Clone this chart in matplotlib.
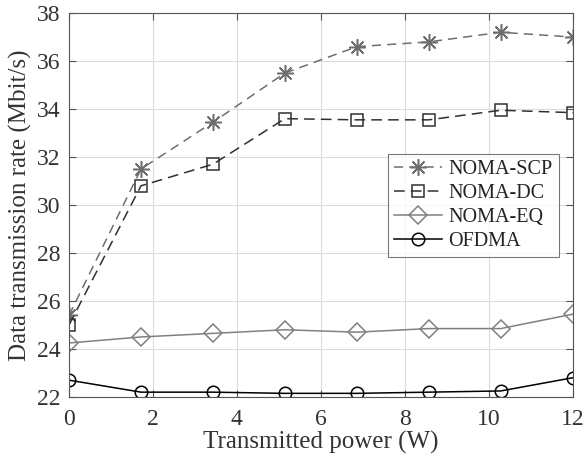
import matplotlib
matplotlib.use("Agg")
import matplotlib.pyplot as plt

# transmitted power (W)
power = [0, 12/7, 24/7, 36/7, 48/7, 60/7, 72/7, 12]

# data rate (Mbit/s)
noma_scp = [25.4, 31.5, 33.45, 35.5, 36.6, 36.8, 37.2, 37.0]
noma_dc = [25.0, 30.8, 31.7, 33.6, 33.55, 33.55, 33.95, 33.85]
noma_eq = [24.25, 24.5, 24.65, 24.8, 24.7, 24.85, 24.85, 25.45]
ofdma = [22.7, 22.2, 22.2, 22.15, 22.15, 22.2, 22.25, 22.8]

plt.rcParams['font.family'] = ['Liberation Serif', 'DejaVu Serif']

fig = plt.figure(figsize=(5.85, 4.67), dpi=100)
ax = fig.add_axes([0.118, 0.15, 0.861, 0.822])

ax.plot(power, noma_scp, color='#6e6e6e', linestyle=(0, (6, 4)), linewidth=1.1,
        marker=(8, 2, 0), markersize=12, markeredgewidth=1.1, label='NOMA-SCP')
ax.plot(power, noma_dc, color='#303030', linestyle=(0, (7, 4)), linewidth=1.1,
        marker='s', markersize=8, markerfacecolor='none', markeredgewidth=1.1, label='NOMA-DC')
ax.plot(power, noma_eq, color='#808080', linestyle='-', linewidth=1.1,
        marker='D', markersize=9, markerfacecolor='none', markeredgewidth=1.1, label='NOMA-EQ')
ax.plot(power, ofdma, color='#000000', linestyle='-', linewidth=1.1,
        marker='o', markersize=9, markerfacecolor='none', markeredgewidth=1.1, label='OFDMA')

ax.set_xlim(0, 12)
ax.set_ylim(22, 38)
ax.set_xticks(range(0, 13, 2))
ax.set_yticks(range(22, 39, 2))
ax.grid(True, color='#dcdcdc', linewidth=0.8)
ax.set_axisbelow(True)

for s in ax.spines.values():
    s.set_color('#555555')
    s.set_linewidth(0.8)
ax.tick_params(direction='in', length=5, width=0.8, color='#555555',
               labelsize=17, labelcolor='#333333', top=True, right=True, pad=6)
ax.tick_params(axis='x', pad=9)

ax.set_xlabel('Transmitted power (W)', fontsize=18, color='#333333', labelpad=0)
ax.set_ylabel('Data transmission rate (Mbit/s)', fontsize=18, color='#333333', labelpad=4)

leg = ax.legend(loc='upper right', bbox_to_anchor=(0.972, 0.633), fontsize=14.5,
                frameon=True, fancybox=False, handlelength=2.4, borderpad=0.3,
                labelspacing=0.24, handletextpad=0.3, borderaxespad=0)
leg.get_frame().set_edgecolor('#555555')
leg.get_frame().set_linewidth(0.8)
for t in leg.get_texts():
    t.set_color('#222222')

fig.savefig('out.png', dpi=100)
